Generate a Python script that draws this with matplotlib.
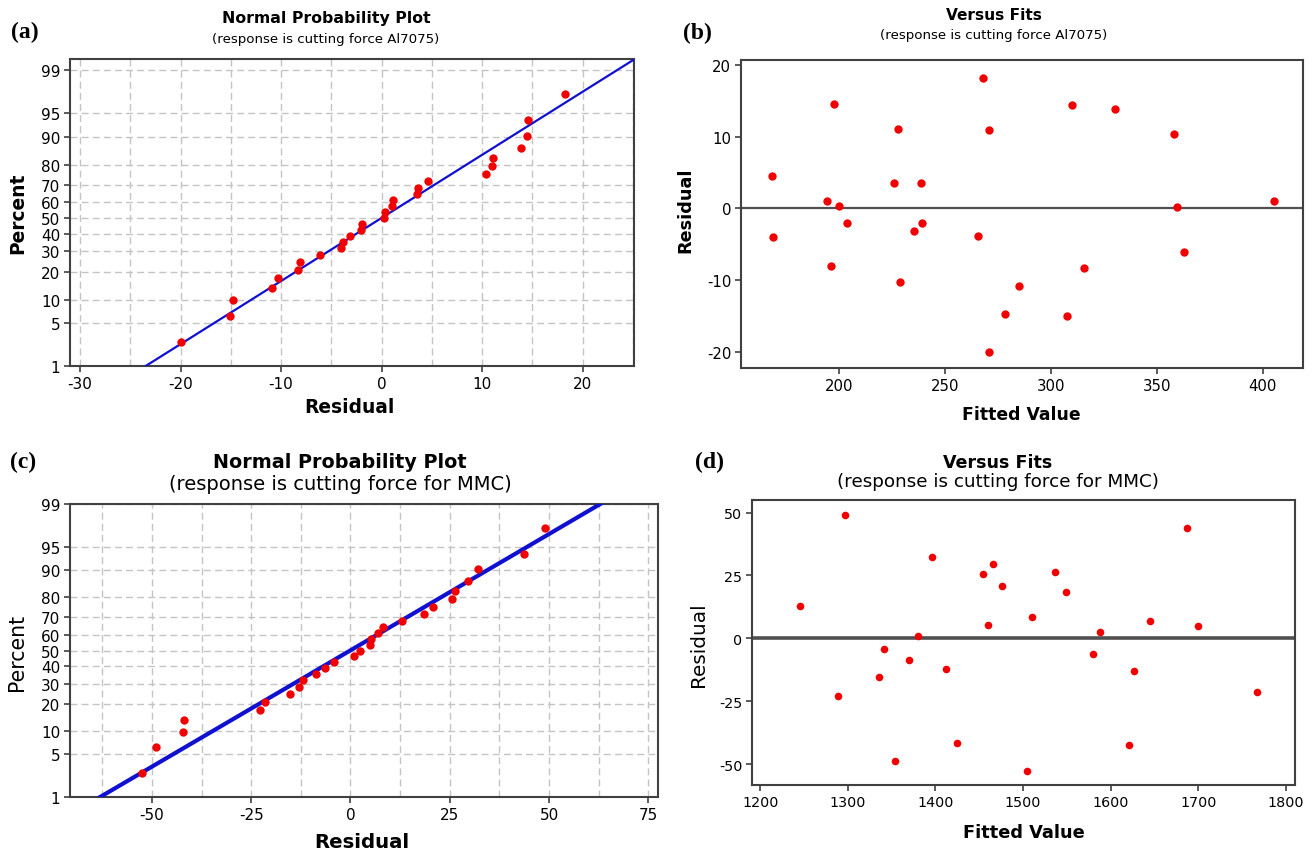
import numpy as np
import matplotlib.pyplot as plt
from matplotlib.ticker import FixedLocator, MultipleLocator
from statistics import NormalDist

plt.rcParams['axes.unicode_minus'] = False

# Al7075 cutting force model: fitted values and residuals (27 runs)
fits_al = [168.2, 168.7, 197.6, 194.3, 200.0, 196.1, 203.9, 227.7, 226.1, 228.8,
           238.6, 239.2, 235.6, 265.8, 267.9, 270.7, 270.7, 309.9, 330.4, 358.3,
           359.6, 405.2, 363.0, 315.9, 285.2, 278.6, 307.6]
resid_al = [4.6, -4.0, 14.6, 1.1, 0.3, -8.1, -2.1, 11.1, 3.5, -10.3,
            3.6, -2.0, -3.1, -3.8, 18.2, 11.0, -20.0, 14.5, 13.9, 10.4,
            0.2, 1.0, -6.1, -8.3, -10.9, -14.8, -15.1]

# MMC cutting force model
fits_mmc = [1244.9, 1296.3, 1288.7, 1335.3, 1341.0, 1353.6, 1370.0, 1380.3, 1395.8, 1411.8,
            1424.1, 1454.0, 1465.8, 1460.5, 1475.6, 1505.0, 1510.0, 1536.6, 1549.6, 1579.6,
            1588.4, 1621.1, 1627.2, 1645.1, 1687.0, 1699.5, 1767.6]
resid_mmc = [13.0, 49.0, -22.8, -15.2, -4.1, -48.9, -8.7, 0.8, 32.2, -12.0,
             -41.8, 25.6, 29.6, 5.2, 20.7, -52.6, 8.3, 26.4, 18.4, -6.4,
             2.5, -42.2, -13.0, 7.0, 43.7, 4.8, -21.5]

# plotting positions (percent) of the ordered residuals
pct = [2.55, 6.20, 9.85, 13.50, 17.15, 20.80, 24.45, 28.10, 31.75, 35.40,
       39.05, 42.70, 46.35, 50.00, 53.65, 57.30, 60.95, 64.60, 68.25, 71.90,
       75.55, 79.20, 82.85, 86.50, 90.15, 93.80, 97.45]
pct_ticks = [1, 5, 10, 20, 30, 40, 50, 60, 70, 80, 90, 95, 99]

W, H = 1312, 854
DOT = '#f00000'
LINE = '#1010d0'
FRAME = '#404040'
GRID = '#c4c4c4'

nd = NormalDist()
prob_fwd = np.vectorize(lambda p: nd.inv_cdf(min(max(p / 100.0, 1e-9), 1 - 1e-9)), otypes=[float])
prob_inv = np.vectorize(lambda z: 100.0 * nd.cdf(z), otypes=[float])

fig = plt.figure(figsize=(W / 100, H / 100), dpi=100)


def add_ax(l, t, r, b):
    ax = fig.add_axes([l / W, 1 - b / H, (r - l) / W, (b - t) / H])
    for s in ax.spines.values():
        s.set_color(FRAME)
        s.set_linewidth(1.5)
    return ax


def label(x, y, s, **kw):
    fig.text(x / W, 1 - y / H, s, ha='center', va='center', **kw)


def prob_plot(ax, resid, ylim, xticks, xlim, step, lw, fs):
    ax.set_yscale('function', functions=(prob_fwd, prob_inv))
    ax.set_ylim(*ylim)
    ax.set_xlim(*xlim)
    ax.yaxis.set_major_locator(FixedLocator(pct_ticks))
    ax.set_yticklabels([str(p) for p in pct_ticks])
    ax.yaxis.set_minor_locator(FixedLocator([]))
    ax.set_xticks(xticks)
    ax.xaxis.set_minor_locator(MultipleLocator(step))
    ax.grid(True, which='both', axis='x', color=GRID, ls=(0, (5, 3)), lw=1)
    ax.grid(True, which='major', axis='y', color=GRID, ls=(0, (5, 3)), lw=1)
    ax.tick_params(which='minor', length=0)
    ax.tick_params(which='major', length=4, width=1.2, color=FRAME, labelsize=fs, pad=3)
    ax.set_axisbelow(True)
    # fitted normal line from mean and standard deviation of the residuals
    mu, sd = np.mean(resid), np.std(resid, ddof=1)
    p_line = np.array([0.05, 99.95])
    ax.plot(mu + sd * prob_fwd(p_line), p_line, color=LINE, lw=lw, zorder=3)
    ax.scatter(np.sort(resid), pct, s=36, color=DOT, zorder=4, linewidths=0)


def fits_plot(ax, fits, resid, xticks, xlim, yticks, ylim, zlw, fs, ms):
    ax.axhline(0, color='#505050', lw=zlw, zorder=2)
    ax.scatter(fits, resid, s=ms, color=DOT, zorder=4, linewidths=0)
    ax.set_xlim(*xlim)
    ax.set_ylim(*ylim)
    ax.set_xticks(xticks)
    ax.set_yticks(yticks)
    ax.tick_params(length=4, width=1.2, color=FRAME, labelsize=fs, pad=3)


# (a) normal probability plot, Al7075
ax_a = add_ax(70, 60, 634, 367)
prob_plot(ax_a, resid_al, (1, 99.38), [-30, -20, -10, 0, 10, 20], (-31, 25.1), 5, 1.6, 11)

# (b) residuals versus fits, Al7075
ax_b = add_ax(741, 61, 1303, 369)
fits_plot(ax_b, fits_al, resid_al, [200, 250, 300, 350, 400], (153.7, 419.1),
          [-20, -10, 0, 10, 20], (-22.3, 20.74), 1.6, 10.7, 36)

# (c) normal probability plot, MMC
ax_c = add_ax(70, 505, 658, 798)
prob_plot(ax_c, resid_mmc, (1, 99), [-50, -25, 0, 25, 50, 75], (-70.6, 77.4), 12.5, 3.0, 11)

# (d) residuals versus fits, MMC
ax_d = add_ax(752, 501, 1295, 786)
fits_plot(ax_d, fits_mmc, resid_mmc, [1200, 1300, 1400, 1500, 1600, 1700, 1800],
          (1190.5, 1810.6), [-50, -25, 0, 25, 50], (-58.3, 55.0), 2.6, 10.3, 30)

# titles
label(326, 19, 'Normal Probability Plot', fontsize=11.3, fontweight='bold')
label(326, 39, '(response is cutting force Al7075)', fontsize=9.6)
label(994, 16, 'Versus Fits', fontsize=11.1, fontweight='bold')
label(994, 36, '(response is cutting force Al7075)', fontsize=9.6)
label(340, 463, 'Normal Probability Plot', fontsize=13.8, fontweight='bold')
label(340, 485, '(response is cutting force for MMC)', fontsize=14)
label(998, 463, 'Versus Fits', fontsize=12.6, fontweight='bold')
label(998, 482, '(response is cutting force for MMC)', fontsize=13.2)

# axis labels
label(18, 213, 'Percent', fontsize=13.4, fontweight='bold', rotation=90)
label(349, 408, 'Residual', fontsize=13.4, fontweight='bold')
label(685, 210, 'Residual', fontsize=12.7, fontweight='bold', rotation=90)
label(1021, 415, 'Fitted Value', fontsize=12.4, fontweight='bold')
label(17, 652, 'Percent', fontsize=14.8, rotation=90)
label(362, 843, 'Residual', fontsize=14.2, fontweight='bold')
label(698, 645, 'Residual', fontsize=14.4, rotation=90)
label(1024, 833, 'Fitted Value', fontsize=12.8, fontweight='bold')

# panel letters
for x, y, s in [(25, 32, '(a)'), (697, 33, '(b)'), (23, 462, '(c)'), (709, 462, '(d)')]:
    label(x, y, s, fontsize=17, fontweight='bold', family='Liberation Serif')

fig.savefig('out.png', dpi=100, facecolor='white')
